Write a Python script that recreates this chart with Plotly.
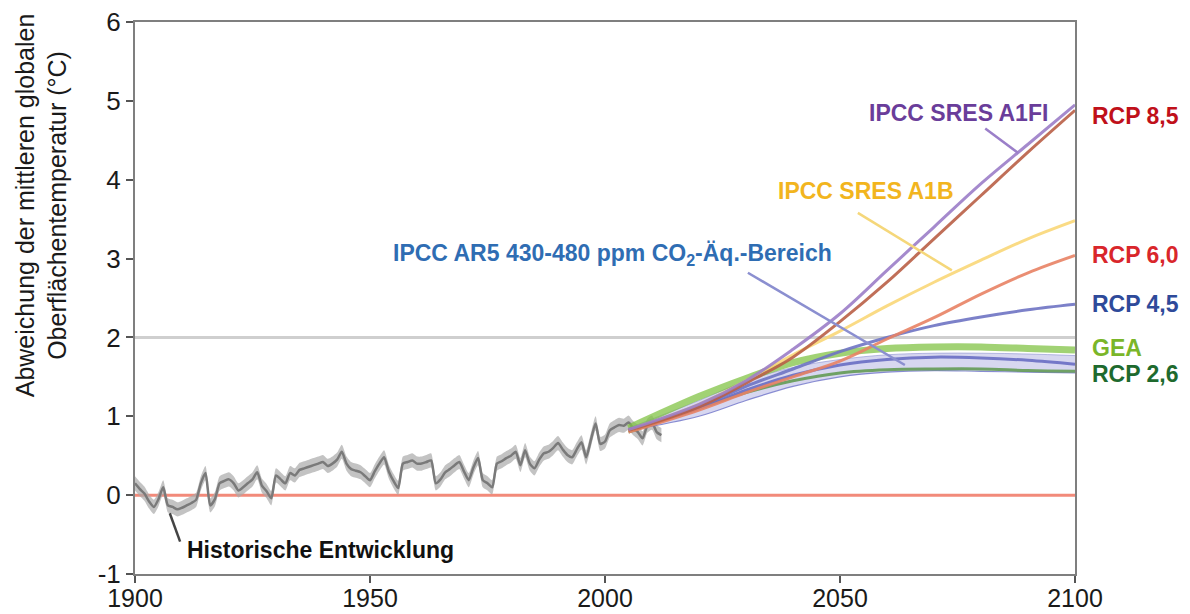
import plotly.graph_objects as go

# --- Observed global mean surface temperature anomaly (°C), annual ---
HIST_YEARS = list(range(1900, 2013))
HIST_TEMP = [
    0.15, 0.08, 0.02, -0.08, -0.15, -0.05, 0.10, -0.13, -0.15, -0.18,   # 1900-1909
    -0.16, -0.13, -0.10, -0.06, 0.15, 0.28, -0.13, -0.05, 0.15, 0.18,   # 1910-1919
    0.20, 0.15, 0.06, 0.10, 0.15, 0.20, 0.29, 0.12, 0.05, -0.04,        # 1920-1929
    0.25, 0.20, 0.15, 0.28, 0.25, 0.32, 0.34, 0.36, 0.38, 0.40,         # 1930-1939
    0.42, 0.37, 0.40, 0.45, 0.55, 0.40, 0.33, 0.31, 0.29, 0.24,         # 1940-1949
    0.19, 0.30, 0.40, 0.48, 0.30, 0.18, 0.09, 0.40, 0.42, 0.44,         # 1950-1959
    0.40, 0.40, 0.42, 0.44, 0.15, 0.20, 0.29, 0.33, 0.38, 0.42,         # 1960-1969
    0.30, 0.19, 0.35, 0.47, 0.19, 0.15, 0.10, 0.40, 0.43, 0.47,         # 1970-1979
    0.50, 0.55, 0.38, 0.57, 0.40, 0.34, 0.45, 0.53, 0.55, 0.60,         # 1980-1989
    0.66, 0.58, 0.51, 0.48, 0.58, 0.67, 0.48, 0.70, 0.91, 0.65,         # 1990-1999
    0.68, 0.82, 0.86, 0.89, 0.88, 0.92, 0.85, 0.80, 0.72, 0.88,         # 2000-2009
    0.92, 0.80, 0.76,                                                   # 2010-2012
]
HIST_UNCERTAINTY = 0.09

# --- Scenario projections (°C) ---
SCEN_YEARS = [2005, 2020, 2030, 2040, 2050, 2060, 2070, 2080, 2090, 2100]
SRES_A1FI = [0.83, 1.15, 1.45, 1.85, 2.30, 2.85, 3.40, 3.95, 4.45, 4.95]
RCP85 = [0.82, 1.12, 1.42, 1.75, 2.20, 2.70, 3.25, 3.80, 4.35, 4.88]
SRES_A1B = [0.82, 1.15, 1.45, 1.78, 2.08, 2.40, 2.70, 2.98, 3.25, 3.48]
RCP60 = [0.80, 1.08, 1.30, 1.50, 1.70, 1.98, 2.25, 2.55, 2.82, 3.04]
RCP45 = [0.82, 1.12, 1.38, 1.60, 1.82, 2.00, 2.15, 2.26, 2.35, 2.42]
GEA = [0.85, 1.25, 1.48, 1.68, 1.80, 1.86, 1.88, 1.88, 1.86, 1.84]
RCP26 = [0.80, 1.10, 1.30, 1.45, 1.55, 1.59, 1.60, 1.60, 1.58, 1.57]
AR5_LOW = [0.82, 1.00, 1.20, 1.38, 1.50, 1.56, 1.58, 1.57, 1.56, 1.55]
AR5_HIGH = [0.85, 1.20, 1.45, 1.62, 1.72, 1.78, 1.80, 1.80, 1.79, 1.77]
AR5_MID = [0.83, 1.10, 1.33, 1.52, 1.65, 1.72, 1.75, 1.74, 1.71, 1.66]

X_TICKS = [1900, 1950, 2000, 2050, 2100]
Y_TICKS = [-1, 0, 1, 2, 3, 4, 5, 6]
Y_TICK_TEXT = ["-1", "0", "1", "2", "3", "4", "5", "6"]

FONT = "Arial, Liberation Sans, sans-serif"

fig = go.Figure()

# Reference levels: pre-industrial baseline and the 2 °C guardrail
fig.add_hline(y=0, line=dict(color="#f28a7a", width=3), layer="below")
fig.add_hline(y=2, line=dict(color="#cfcfcf", width=3), layer="below")

# Historical record with its uncertainty envelope
hist_hi = [v + HIST_UNCERTAINTY for v in HIST_TEMP]
hist_lo = [v - HIST_UNCERTAINTY for v in HIST_TEMP]
fig.add_trace(go.Scatter(x=HIST_YEARS, y=hist_hi, mode="lines",
                         line=dict(width=0, shape="spline", smoothing=0.6),
                         showlegend=False, hoverinfo="skip"))
fig.add_trace(go.Scatter(x=HIST_YEARS, y=hist_lo, mode="lines",
                         line=dict(width=0, shape="spline", smoothing=0.6),
                         fill="tonexty", fillcolor="rgba(170,170,170,0.7)",
                         showlegend=False, hoverinfo="skip"))
fig.add_trace(go.Scatter(x=HIST_YEARS, y=HIST_TEMP, mode="lines",
                         line=dict(color="#7a7a7a", width=2.5, shape="spline", smoothing=0.6),
                         showlegend=False))

# AR5 430-480 ppm range
fig.add_trace(go.Scatter(x=SCEN_YEARS, y=AR5_HIGH, mode="lines",
                         line=dict(color="rgba(120,125,200,0.5)", width=1, shape="spline"),
                         showlegend=False, hoverinfo="skip"))
fig.add_trace(go.Scatter(x=SCEN_YEARS, y=AR5_LOW, mode="lines",
                         line=dict(color="rgba(110,115,200,0.8)", width=1.2, shape="spline"),
                         fill="tonexty", fillcolor="rgba(150,150,215,0.38)",
                         showlegend=False, hoverinfo="skip"))


def scen(y, color, width=3):
    fig.add_trace(go.Scatter(x=SCEN_YEARS, y=y, mode="lines",
                             line=dict(color=color, width=width, shape="spline"),
                             showlegend=False))


scen(RCP26, "rgba(100,155,85,0.9)", 3)
scen(GEA, "rgba(130,195,70,0.75)", 7)
scen(AR5_MID, "rgba(105,110,195,0.9)", 3)
scen(RCP45, "rgba(110,115,195,0.9)", 3)
scen(RCP60, "rgba(232,130,100,0.9)", 3)
scen(SRES_A1B, "rgba(250,215,120,0.9)", 3)
scen(RCP85, "rgba(185,95,70,0.9)", 3)
scen(SRES_A1FI, "rgba(155,125,200,0.9)", 3)

# Leader lines from the labels to their curves
leaders = [
    (2080.9, 4.65, 2087.9, 4.34, "#9b7fc9"),
    (2053.8, 3.58, 2073.8, 2.85, "#f5d77a"),
    (2030.4, 2.82, 2063.8, 1.65, "#8b8fd0"),
    (1907.4, -0.23, 1909.6, -0.59, "#444444"),
]
for x0, y0, x1, y1, c in leaders:
    fig.add_shape(type="line", xref="x", yref="y", x0=x0, y0=y0, x1=x1, y1=y1,
                  line=dict(color=c, width=2.5))


# In-plot labels
def label(x, y, text, color, xref="x", xanchor="center"):
    fig.add_annotation(x=x, y=y, xref=xref, yref="y", text=text, showarrow=False,
                       xanchor=xanchor, yanchor="middle",
                       font=dict(family=FONT, size=23, color=color))


label(2075.3, 4.84, "<b>IPCC SRES A1FI</b>", "#6a3d9a")
label(2055.5, 3.86, "<b>IPCC SRES A1B</b>", "#f2b51e")
label(2001.5, 3.05, "<b>IPCC AR5 430-480 ppm CO<sub>2</sub>-Äq.-Bereich</b>", "#2f6db3")
label(1939.4, -0.70, "<b>Historische Entwicklung</b>", "#111111")

# Scenario names at the right edge
RIGHT_LABELS = [("RCP 8,5", 4.81, "#c0101a"), ("RCP 6,0", 3.04, "#d9262b"),
                ("RCP 4,5", 2.43, "#2e4a9a"), ("GEA", 1.86, "#7ab629"),
                ("RCP 2,6", 1.54, "#1e6a2e")]
for t, yv, c in RIGHT_LABELS:
    label(1.016, yv, f"<b>{t}</b>", c, xref="paper", xanchor="left")

# Y axis title
fig.add_annotation(x=-0.1, y=0.668, xref="paper", yref="paper", textangle=-90,
                   text="Abweichung der mittleren globalen<br>Oberflächentemperatur (°C)",
                   showarrow=False, xanchor="center", yanchor="middle",
                   font=dict(family=FONT, size=25, color="#1a1a1a"))

axis_common = dict(showgrid=False, zeroline=False, showline=True, linecolor="#7f7f7f",
                   linewidth=2, mirror=True, ticks="outside", ticklen=7,
                   tickcolor="#555555", tickwidth=1.5,
                   automargin=False)

fig.update_layout(
    width=1190, height=614,
    margin=dict(l=135, r=115, t=22, b=40),
    paper_bgcolor="white", plot_bgcolor="white",
    xaxis=dict(range=[1900, 2100], tickvals=X_TICKS, ticklabelstandoff=-6,
               tickfont=dict(family=FONT, size=25, color="#1a1a1a"), **axis_common),
    yaxis=dict(range=[-1, 6], tickvals=Y_TICKS, ticktext=Y_TICK_TEXT,
               tickfont=dict(family=FONT, size=26, color="#1a1a1a"), **axis_common),
    showlegend=False,
)

fig.write_html("out.html")
